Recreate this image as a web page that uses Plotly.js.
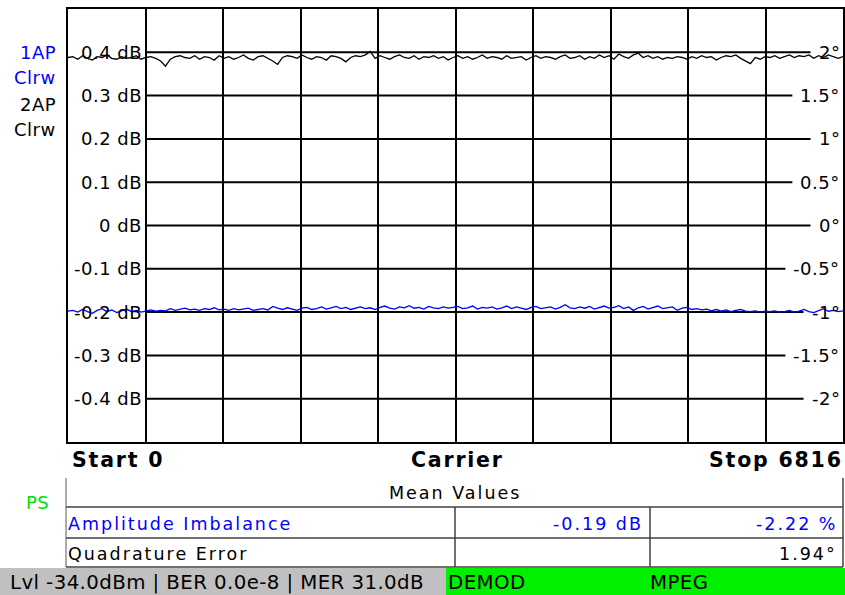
<!DOCTYPE html>
<html>
<head>
<meta charset="utf-8">
<script src="https://cdn.plot.ly/plotly-3.0.1.min.js"></script>
<style>
html,body{margin:0;padding:0;background:#fff;}
#chart{width:845px;height:595px;}
text.annotation-text[style*="font-size: 18px"]{letter-spacing:0.5px;}
text.annotation-text[style*="font-size: 17.5px"]{letter-spacing:2px;}
text.annotation-text[style*="font-size: 20.5px"]{letter-spacing:1.8px;}
text.annotation-text[style*="font-size: 19.8px"]{letter-spacing:0.4px;}
</style>
</head>
<body>
<div id="chart"></div>
<script>
// ---------------- data ----------------
const carrierStart = 0;
const carrierStop = 6816;

// Quadrature error trace (degrees, right axis) - black
const quadErrorDeg = [
 1.94,1.95,1.92,1.96,1.93,1.91,1.95,1.94,1.97,1.93,1.92,1.95,1.93,1.94,1.96,1.92,1.94,1.95,1.93,1.90,
 1.84,1.92,1.95,1.96,1.94,1.93,1.96,1.92,1.95,1.94,1.91,1.96,1.93,1.95,1.92,1.94,1.97,1.93,1.91,1.95,
 1.96,1.93,1.90,1.86,1.94,1.96,1.95,1.93,1.97,1.94,1.92,1.95,1.94,1.91,1.96,1.95,1.93,1.89,1.94,1.96,
 1.95,1.97,2.01,1.93,1.96,1.94,1.92,1.95,1.97,1.94,1.93,1.96,1.92,1.95,1.94,1.96,1.93,1.95,1.91,1.94,
 1.96,1.93,1.95,1.92,1.94,1.97,1.93,1.95,1.94,1.92,1.96,1.93,1.94,1.95,1.91,1.94,1.96,1.93,1.95,1.94,
 1.92,1.95,1.97,1.93,1.94,1.96,1.92,1.95,1.93,1.97,1.94,1.96,1.92,1.98,1.95,1.93,1.97,1.99,1.94,1.96,
 1.93,1.95,1.92,1.94,1.93,1.95,1.94,1.92,1.95,1.93,1.96,1.94,1.95,1.91,1.94,1.96,1.95,1.97,1.93,1.90,
 1.87,1.94,1.92,1.95,1.94,1.96,1.93,1.95,1.97,1.94,1.96,1.95,1.97,1.93,1.96,1.94,1.97,1.95,1.93,1.95
];

// Amplitude imbalance trace (dB, left axis) - blue
const ampImbalanceDb = [
 -0.198,-0.196,-0.200,-0.194,-0.199,-0.203,-0.196,-0.192,-0.199,-0.195,-0.201,-0.197,-0.193,-0.199,-0.196,-0.200,-0.197,-0.195,-0.198,-0.196,
 -0.197,-0.192,-0.196,-0.194,-0.191,-0.195,-0.193,-0.196,-0.192,-0.194,-0.190,-0.195,-0.193,-0.196,-0.192,-0.195,-0.193,-0.191,-0.196,-0.194,
 -0.192,-0.195,-0.187,-0.191,-0.194,-0.190,-0.193,-0.196,-0.191,-0.189,-0.194,-0.192,-0.188,-0.193,-0.190,-0.187,-0.192,-0.189,-0.194,-0.191,
 -0.188,-0.192,-0.190,-0.194,-0.189,-0.186,-0.191,-0.193,-0.188,-0.190,-0.185,-0.191,-0.189,-0.193,-0.187,-0.190,-0.192,-0.188,-0.191,-0.189,
 -0.187,-0.192,-0.190,-0.186,-0.193,-0.189,-0.191,-0.188,-0.193,-0.190,-0.186,-0.192,-0.188,-0.191,-0.194,-0.189,-0.187,-0.192,-0.190,-0.188,
 -0.193,-0.189,-0.183,-0.190,-0.192,-0.188,-0.191,-0.187,-0.193,-0.190,-0.186,-0.191,-0.189,-0.185,-0.192,-0.188,-0.196,-0.190,-0.187,-0.193,
 -0.189,-0.186,-0.192,-0.190,-0.188,-0.196,-0.191,-0.189,-0.194,-0.192,-0.195,-0.193,-0.197,-0.194,-0.198,-0.195,-0.199,-0.196,-0.194,-0.198,
 -0.199,-0.197,-0.200,-0.198,-0.199,-0.197,-0.200,-0.199,-0.196,-0.200,-0.198,-0.194,-0.199,-0.201,-0.197,-0.192,-0.198,-0.196,-0.199,-0.197
];

const leftTickVals = [0.4, 0.3, 0.2, 0.1, 0, -0.1, -0.2, -0.3, -0.4];
const leftTickText = ["0.4 dB","0.3 dB","0.2 dB","0.1 dB","0 dB","-0.1 dB","-0.2 dB","-0.3 dB","-0.4 dB"];
const rightTickVals = [2, 1.5, 1, 0.5, 0, -0.5, -1, -1.5, -2];
const rightTickText = ["2°","1.5°","1°","0.5°","0°","-0.5°","-1°","-1.5°","-2°"];

const traceLabels = [["1AP","#0000ff"],["Clrw","#0000ff"],["2AP","#000000"],["Clrw","#000000"]];
const axisLabels = ["Start 0", "Carrier", "Stop 6816"];
const tableTitle = "Mean Values";
const rowNames = ["Amplitude Imbalance", "Quadrature Error"];
const rowValuesA = ["-0.19 dB", ""];
const rowValuesB = ["-2.22 %", "1.94°"];
const rowColors = ["#0000ff", "#000000"];
const statusText = "Lvl -34.0dBm | BER 0.0e-8 | MER 31.0dB";
const statusTags = ["DEMOD", "MPEG"];
const sideTag = "PS";

// ---------------- layout helpers ----------------
const W = 845, H = 595;
const M = {l: 68, r: 2, t: 9, b: 153};
const PW = W - M.l - M.r, PH = H - M.t - M.b;
const px = x => (x - M.l) / PW;        // page px -> paper x
const py = y => (H - M.b - y) / PH;    // page px -> paper y
const FONT = "DejaVu Sans";
const AX = 18, TB = 17.5, BOLD = 20.5, ST = 19.8;

const ctx = document.createElement("canvas").getContext("2d");
function textW(s, size, spacing) {
  ctx.font = size + "px '" + FONT + "'";
  return ctx.measureText(s).width + spacing * s.length;
}

const nPts = quadErrorDeg.length;
const dx = (carrierStop - carrierStart) / (nPts - 1);

const traces = [
  {type: "scatter", mode: "lines", x0: carrierStart, dx: dx, y: ampImbalanceDb,
   yaxis: "y", line: {color: "#0000ff", width: 1.3}, hoverinfo: "skip"},
  {type: "scatter", mode: "lines", x0: carrierStart, dx: dx, y: quadErrorDeg,
   yaxis: "y2", line: {color: "#000000", width: 1.3}, hoverinfo: "skip"}
];

const shapes = [];
const annotations = [];

// horizontal grid lines + axis labels
leftTickVals.forEach((v, i) => {
  const lw = textW(rightTickText[i], AX, 0.5);
  shapes.push({type: "line", xref: "paper", yref: "y", x0: px(146), x1: px(840 - lw - 8),
    y0: v, y1: v, line: {color: "#000", width: 2}, layer: "below"});
  annotations.push({xref: "paper", yref: "y", x: px(144), y: v, xanchor: "right", yanchor: "middle",
    text: leftTickText[i], showarrow: false, font: {family: FONT, size: AX, color: "#000"}});
});
rightTickVals.forEach((v, i) => {
  annotations.push({xref: "paper", yref: "y2", x: px(842), y: v, xanchor: "right", yanchor: "middle",
    text: rightTickText[i], showarrow: false, font: {family: FONT, size: AX, color: "#000"}});
});

// trace labels on the left
const traceLabelY = [52, 77, 104, 130];
traceLabels.forEach((t, i) => {
  annotations.push({xref: "paper", yref: "paper", x: px(58), y: py(traceLabelY[i]), xanchor: "right", yanchor: "middle",
    text: t[0], showarrow: false, font: {family: FONT, size: AX, color: t[1]}});
});

// start / carrier / stop
annotations.push({xref: "paper", yref: "paper", x: px(70), y: py(460), xanchor: "left", yanchor: "middle",
  text: "<b>" + axisLabels[0] + "</b>", showarrow: false, font: {family: FONT, size: BOLD, color: "#000"}});
annotations.push({xref: "paper", yref: "paper", x: px(458), y: py(460), xanchor: "center", yanchor: "middle",
  text: "<b>" + axisLabels[1] + "</b>", showarrow: false, font: {family: FONT, size: BOLD, color: "#000"}});
annotations.push({xref: "paper", yref: "paper", x: px(845), y: py(460), xanchor: "right", yanchor: "middle",
  text: "<b>" + axisLabels[2] + "</b>", showarrow: false, font: {family: FONT, size: BOLD, color: "#000"}});

// PS tag
annotations.push({xref: "paper", yref: "paper", x: px(24), y: py(502), xanchor: "left", yanchor: "middle",
  text: sideTag, showarrow: false, font: {family: FONT, size: AX, color: "#00e000"}});

// table lines
const tl = (x0, y0, x1, y1, c, w) => shapes.push({type: "line", xref: "paper", yref: "paper",
  x0: px(x0), y0: py(y0), x1: px(x1), y1: py(y1), line: {color: c, width: w}});
tl(66, 478, 66, 567, "#909090", 1.5);
tl(843, 478, 843, 567, "#404040", 1.5);
tl(66, 507, 843, 507, "#404040", 1.5);
tl(66, 538, 843, 538, "#404040", 1.5);
tl(66, 567, 843, 567, "#404040", 1.5);
tl(455, 507, 455, 567, "#404040", 1.5);
tl(650, 507, 650, 567, "#404040", 1.5);

// table texts
annotations.push({xref: "paper", yref: "paper", x: px(455), y: py(493), xanchor: "center", yanchor: "middle",
  text: tableTitle, showarrow: false, font: {family: FONT, size: TB, color: "#000"}});
const rowY = [524, 554];
rowNames.forEach((n, i) => {
  annotations.push({xref: "paper", yref: "paper", x: px(66), y: py(rowY[i]), xanchor: "left", yanchor: "middle",
    text: n, showarrow: false, font: {family: FONT, size: TB, color: rowColors[i]}});
  if (rowValuesA[i]) annotations.push({xref: "paper", yref: "paper", x: px(645), y: py(rowY[i]), xanchor: "right", yanchor: "middle",
    text: rowValuesA[i], showarrow: false, font: {family: FONT, size: TB, color: rowColors[i]}});
  if (rowValuesB[i]) annotations.push({xref: "paper", yref: "paper", x: px(839), y: py(rowY[i]), xanchor: "right", yanchor: "middle",
    text: rowValuesB[i], showarrow: false, font: {family: FONT, size: TB, color: rowColors[i]}});
});

// status bar
shapes.push({type: "rect", xref: "paper", yref: "paper", x0: px(0), x1: px(446), y0: py(568), y1: py(595),
  fillcolor: "#c0c0c0", line: {width: 0}});
shapes.push({type: "rect", xref: "paper", yref: "paper", x0: px(446), x1: px(845), y0: py(568), y1: py(595),
  fillcolor: "#00f000", line: {width: 0}});
annotations.push({xref: "paper", yref: "paper", x: px(8), y: py(582), xanchor: "left", yanchor: "middle",
  text: statusText, showarrow: false, font: {family: FONT, size: ST, color: "#000"}});
annotations.push({xref: "paper", yref: "paper", x: px(446), y: py(582), xanchor: "left", yanchor: "middle",
  text: statusTags[0], showarrow: false, font: {family: FONT, size: ST, color: "#000"}});
annotations.push({xref: "paper", yref: "paper", x: px(648), y: py(582), xanchor: "left", yanchor: "middle",
  text: statusTags[1], showarrow: false, font: {family: FONT, size: ST, color: "#000"}});

const layout = {
  width: W, height: H,
  margin: M,
  paper_bgcolor: "#ffffff", plot_bgcolor: "#ffffff",
  showlegend: false,
  xaxis: {range: [carrierStart, carrierStop], tick0: carrierStart, dtick: (carrierStop - carrierStart) / 10,
    showgrid: true, gridcolor: "#000", gridwidth: 2, zeroline: false, showticklabels: false, ticks: "",
    showline: true, mirror: true, linecolor: "#000", linewidth: 2, fixedrange: true},
  yaxis: {range: [-0.5, 0.5], showgrid: false, zeroline: false, showticklabels: false, ticks: "",
    showline: true, mirror: true, linecolor: "#000", linewidth: 2, fixedrange: true},
  yaxis2: {range: [-2.5, 2.5], overlaying: "y", side: "right", showgrid: false, zeroline: false,
    showticklabels: false, ticks: "", showline: false, fixedrange: true},
  shapes: shapes,
  annotations: annotations
};

Plotly.newPlot("chart", traces, layout, {displayModeBar: false, staticPlot: true});
</script>
</body>
</html>
